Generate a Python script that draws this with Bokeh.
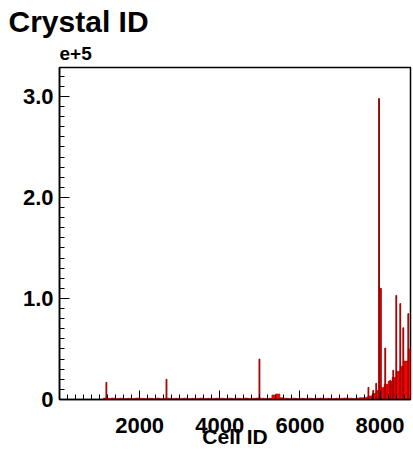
from bokeh.plotting import figure
from bokeh.models import FixedTicker, Title, ColumnDataSource
from bokeh.embed import file_html
from bokeh.resources import INLINE

# ---- data (counts per Cell ID bin) ----
base_left = list(range(1100, 8800, 100))
base_counts = [
    1500, 1200, 1400, 1000, 1300, 900, 1200, 1100, 1500,
    1200, 1000, 1300, 1100, 1400, 1000, 1200, 1300, 1100, 1200,
    1100, 1300, 1000, 1200, 1100, 1400, 1000, 1200, 1100, 1300,
    1200, 1000, 1300, 1100, 1200, 1000, 1400, 1100, 1200, 1500,
    1300, 1100, 1200, 4500, 5500, 1800, 1200, 1100, 1300, 1000,
    1200, 1100, 1300, 1000, 1200, 1400, 1100, 1200, 1000, 1300,
    1200, 1500, 1300, 1100, 1600, 1800, 2200, 3500, 6000, 9000,
    12000, 15000, 18000, 22000, 28000, 33000, 38000, 50000,
]
spike_center = [1170, 2670, 4990, 7710, 7830, 7905, 7975, 8010, 8130, 8255, 8330, 8405, 8505, 8580, 8705]
spike_counts = [17000, 20000, 40000, 12000, 9000, 16000, 298000, 110000, 51000, 19000, 29000, 103000, 95000, 71000, 85000]
spike_width = [20, 20, 20, 20, 20, 20, 20, 40, 20, 20, 20, 20, 20, 20, 20]

x_major = [2000, 4000, 6000, 8000]
x_minor = list(range(200, 8800, 200))
y_major = [0, 100000, 200000, 300000]
y_labels = {0: "0", 100000: "1.0", 200000: "2.0", 300000: "3.0"}
y_minor = list(range(10000, 330000, 10000))

FONT = "Liberation Sans"
FILL = "#ff0000"
LINE = "#990000"

p = figure(width=413, height=450, output_backend="svg", toolbar_location=None,
           title=None, x_range=(0, 8760), y_range=(0, 328700),
           min_border_left=59, min_border_right=3, min_border_top=67, min_border_bottom=51,
           background_fill_color="white", border_fill_color="white")

base_src = ColumnDataSource(dict(left=base_left,
                                 right=[b + 100 for b in base_left],
                                 top=base_counts))
p.quad(left="left", right="right", top="top", bottom=0, source=base_src,
       fill_color=FILL, line_color=LINE, line_width=0.5)

sp_src = ColumnDataSource(dict(left=[c - w / 2 for c, w in zip(spike_center, spike_width)],
                               right=[c + w / 2 for c, w in zip(spike_center, spike_width)],
                               top=spike_counts))
p.quad(left="left", right="right", top="top", bottom=0, source=sp_src,
       fill_color=FILL, line_color=LINE, line_width=1)

p.xgrid.visible = False
p.ygrid.visible = False
p.outline_line_color = "black"
p.outline_line_width = 1.5

xa = p.xaxis[0]
xa.ticker = FixedTicker(ticks=x_major, minor_ticks=x_minor)
xa.major_tick_in = 9
xa.major_tick_out = 0
xa.minor_tick_in = 5
xa.minor_tick_out = 0
xa.major_label_text_font = FONT
xa.major_label_text_font_style = "bold"
xa.major_label_text_font_size = "22px"
xa.major_label_text_color = "black"
xa.major_label_standoff = 18
xa.axis_label = "Cell ID"
xa.axis_label_text_font = FONT
xa.axis_label_text_font_style = "bold"
xa.axis_label_text_font_size = "21px"
xa.axis_label_text_color = "black"
xa.axis_label_standoff = -11
xa.axis_line_width = 1.5

ya = p.yaxis[0]
ya.ticker = FixedTicker(ticks=y_major, minor_ticks=y_minor)
ya.major_label_overrides = y_labels
ya.major_tick_in = 10
ya.major_tick_out = 0
ya.minor_tick_in = 5
ya.minor_tick_out = 0
ya.major_label_text_font = FONT
ya.major_label_text_font_style = "bold"
ya.major_label_text_font_size = "22px"
ya.major_label_text_color = "black"
ya.major_label_standoff = 6
ya.axis_line_width = 1.5

p.add_layout(Title(text="e+5", align="left", offset=0, text_font=FONT, text_color="black",
                   text_font_style="bold", text_font_size="19px", standoff=15), "above")
p.add_layout(Title(text="Crystal ID", align="left", offset=-51, text_font=FONT, text_color="black",
                   text_font_style="bold", text_font_size="30px", standoff=0), "above")

open("out.html", "w").write(file_html(p, INLINE))
